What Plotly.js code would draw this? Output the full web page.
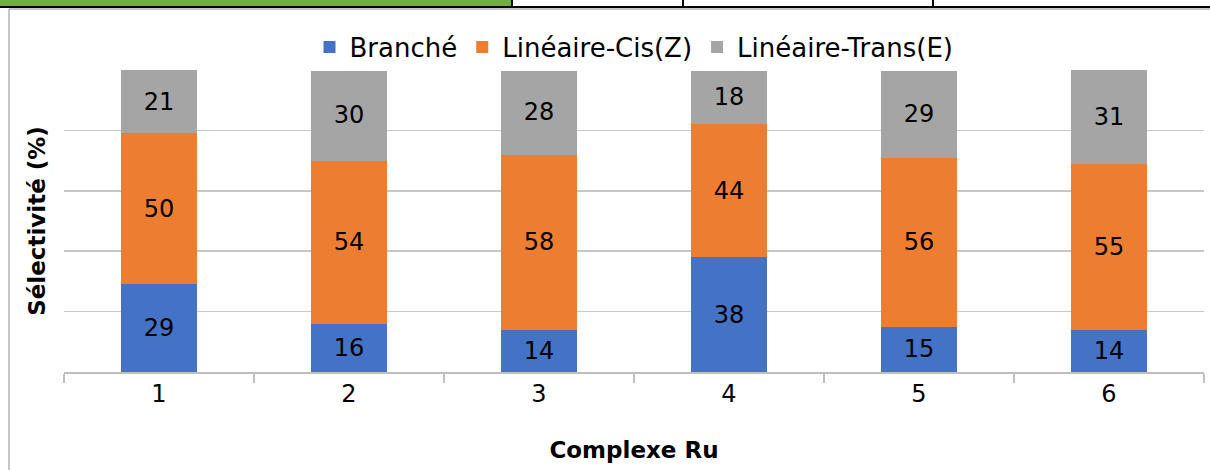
<!DOCTYPE html>
<html>
<head>
<meta charset="utf-8">
<script src="https://cdn.plot.ly/plotly-3.0.1.min.js"></script>
<style>html,body{margin:0;padding:0;background:#fff;}#chart{width:1210px;height:470px;}</style>
</head>
<body>
<div id="chart"></div>
<script>
const categories = ['1', '2', '3', '4', '5', '6'];
const branche = [29, 16, 14, 38, 15, 14];
const cis = [50, 54, 58, 44, 56, 55];
const trans = [21, 30, 28, 18, 29, 31];
const seriesNames = ['Branché', 'Linéaire-Cis(Z)', 'Linéaire-Trans(E)'];
const colors = ['#4472C4', '#ED7D31', '#A5A5A5'];
const yTicks = [0, 20, 40, 60, 80, 100];

const FONT = '"DejaVu Sans", sans-serif';
const L = 64, R = 6, T = 70, B = 98, W = 1210, H = 470;
const PW = W - L - R, PH = H - T - B;
const px = x => (x - L) / PW;
const py = y => (H - B - y) / PH;

function mk(vals, i) {
  return {
    type: 'bar', x: categories, y: vals, name: seriesNames[i],
    marker: {color: colors[i]},
    texttemplate: '%{y}', textposition: 'inside', insidetextanchor: 'middle',
    constraintext: 'none',
    textfont: {family: FONT, size: 24, color: '#000'},
    hoverinfo: 'skip'
  };
}
const data = [mk(branche, 0), mk(cis, 1), mk(trans, 2)];

const shapes = [
  // decorative spreadsheet strip on top
  {type: 'rect', xref: 'paper', yref: 'paper', x0: px(0), x1: px(512), y0: py(0), y1: py(7), fillcolor: '#70AD47', line: {width: 0}, layer: 'above'},
  {type: 'line', xref: 'paper', yref: 'paper', x0: px(0), x1: px(1210), y0: py(7), y1: py(7), line: {color: '#000', width: 2}},
  {type: 'line', xref: 'paper', yref: 'paper', x0: px(512), x1: px(512), y0: py(0), y1: py(7), line: {color: '#000', width: 2}},
  {type: 'line', xref: 'paper', yref: 'paper', x0: px(683), x1: px(683), y0: py(0), y1: py(7), line: {color: '#000', width: 2}},
  {type: 'line', xref: 'paper', yref: 'paper', x0: px(933), x1: px(933), y0: py(0), y1: py(7), line: {color: '#000', width: 2}},
  // chart frame (gray)
  {type: 'line', xref: 'paper', yref: 'paper', x0: px(9), x1: px(1210), y0: py(9), y1: py(9), line: {color: '#b4b4b4', width: 1.5}},
  {type: 'line', xref: 'paper', yref: 'paper', x0: px(9), x1: px(9), y0: py(9), y1: py(470), line: {color: '#b4b4b4', width: 1.5}}
];

const layout = {
  width: W, height: H,
  margin: {l: L, r: R, t: T, b: B, pad: 0},
  paper_bgcolor: '#fff', plot_bgcolor: '#fff',
  barmode: 'stack', bargap: 0.6,
  font: {family: FONT, size: 24, color: '#000'},
  showlegend: true,
  legend: {orientation: 'h', x: 0.5, xanchor: 'center', y: py(47), yanchor: 'middle',
           font: {family: FONT, size: 26, color: '#000'}, traceorder: 'normal', itemwidth: 30},
  xaxis: {
    type: 'category', categoryorder: 'array', categoryarray: categories,
    showline: true, linecolor: '#bfbfbf', linewidth: 1.5,
    ticks: 'outside', tickson: 'boundaries', ticklen: 9, tickcolor: '#bfbfbf', tickwidth: 1.5,
    tickfont: {family: FONT, size: 24, color: '#000'},
    showgrid: false, fixedrange: true,
    title: {text: '<b>Complexe Ru</b>', font: {family: FONT, size: 23, color: '#000'}, standoff: 34}
  },
  yaxis: {
    range: [0, 100], tickvals: yTicks, showticklabels: false,
    showgrid: true, gridcolor: '#c8c8c8', gridwidth: 1.5,
    zeroline: false, showline: false, fixedrange: true,
    title: {text: '<b>Sélectivité (%)</b>', font: {family: FONT, size: 23, color: '#000'}, standoff: 10}
  },
  shapes: shapes
};

Plotly.newPlot('chart', data, layout, {displayModeBar: false, staticPlot: true});
</script>
</body>
</html>
